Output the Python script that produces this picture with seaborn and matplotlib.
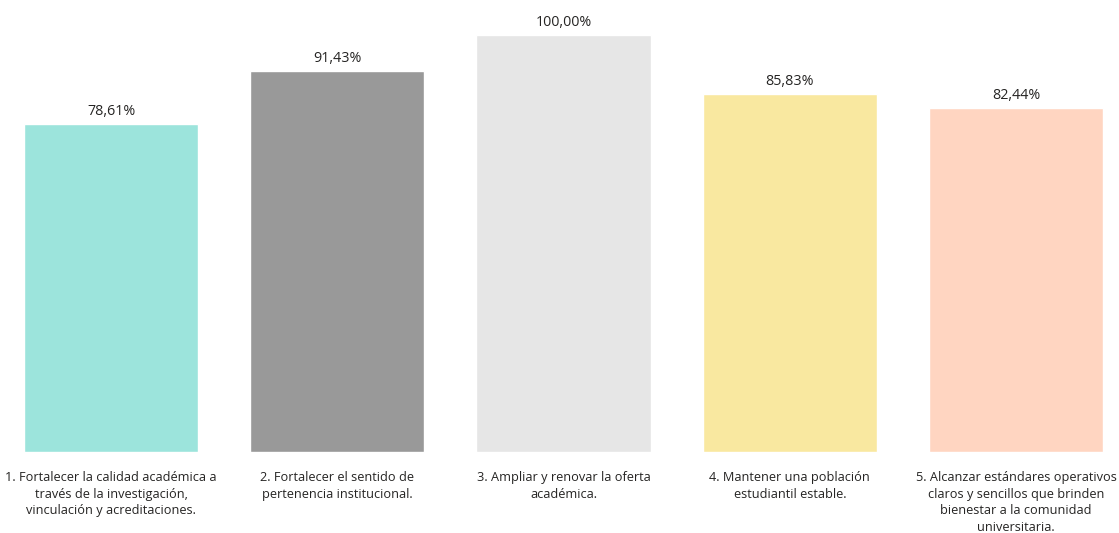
import matplotlib
matplotlib.use("Agg")
import matplotlib.pyplot as plt
import seaborn as sns
import pandas as pd

categories = [
    "1. Fortalecer la calidad académica a\ntravés de la investigación,\nvinculación y acreditaciones.",
    "2. Fortalecer el sentido de\npertenencia institucional.",
    "3. Ampliar y renovar la oferta\nacadémica.",
    "4. Mantener una población\nestudiantil estable.",
    "5. Alcanzar estándares operativos\nclaros y sencillos que brinden\nbienestar a la comunidad\nuniversitaria.",
]
values = [78.61, 91.43, 100.00, 85.83, 82.44]
value_labels = ["78,61%", "91,43%", "100,00%", "85,83%", "82,44%"]
colors = ["#9CE4DC", "#999999", "#E6E6E6", "#F9E8A0", "#FFD5C1"]

sns.set_style("white")
plt.rcParams['font.family'] = ['Open Sans', 'DejaVu Sans']

W, H = 1119, 533
fig = plt.figure(figsize=(W / 100, H / 100), dpi=100)
ax = fig.add_axes([0, (H - 452) / H, 1, (452 - 20) / H])

df = pd.DataFrame({"cat": categories, "val": values})
sns.barplot(data=df, x="cat", y="val", hue="cat", palette=colors, legend=False,
            width=0.77, saturation=1, ax=ax)

ax.set_xlim(-111 / 226.25, (W - 111) / 226.25)
ax.set_ylim(0, (452 - 20) / 417 * 100)

for i, (v, lab) in enumerate(zip(values, value_labels)):
    ax.text(i, v + 1.2, lab, ha="center", va="bottom", fontsize=10.3, color="#252423")

ax.set_xlabel("")
ax.set_ylabel("")
ax.set_yticks([])
ax.set_xticks(range(len(categories)))
ax.set_xticklabels(categories, fontsize=9.2, color="#252423", linespacing=1.34,
                   ha="center", va="top")
ax.tick_params(axis="x", length=0, pad=14)
for s in ax.spines.values():
    s.set_visible(False)

fig.savefig("out.png", dpi=100)
